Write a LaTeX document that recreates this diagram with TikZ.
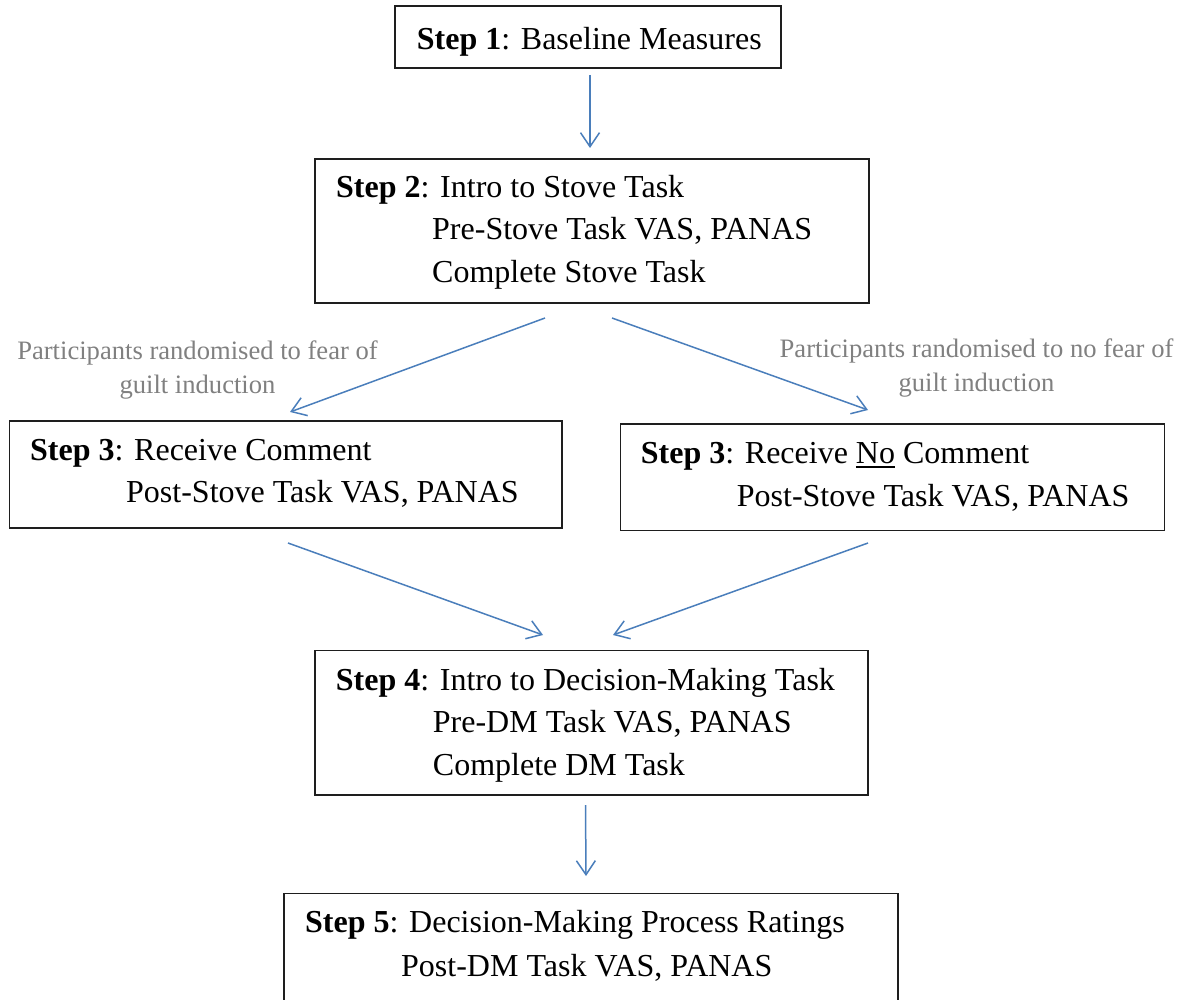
\documentclass[tikz,border=0pt]{standalone}
\usepackage{fontspec}
\setmainfont{Liberation Serif}
\usetikzlibrary{arrows.meta}
\definecolor{arrc}{RGB}{74,126,187}
\definecolor{lblc}{RGB}{128,128,128}
\definecolor{boxc}{RGB}{30,30,30}
\newcommand\mainfs{\fontsize{32}{42}\selectfont}
\newcommand\lblfs{\fontsize{26.6}{34}\selectfont}
\newcommand\myul[1]{\setbox0\hbox{#1}\rlap{\rule[-4.4pt]{\wd0}{1.4pt}}#1}
\tikzset{
  box/.style={draw=boxc, line width=1.3pt, rectangle, inner sep=0pt, outer sep=0pt},
  txt/.style={anchor=base west, inner sep=0pt, font=\mainfs},
  lbl/.style={anchor=base, inner sep=0pt, font=\lblfs, text=lblc},
  arr/.style={draw=arrc, line width=1.5pt, -{Straight Barb[length=14pt,width=19pt,line width=1.5pt]}}
}
\begin{document}
\begin{tikzpicture}[x=1pt,y=-1pt]
\useasboundingbox (0,0) rectangle (1185,1000);
% boxes
\node[box, minimum width=386pt, minimum height=62pt] (b1) at (588,37) {};
\node[box, minimum width=554pt, minimum height=144pt] (b2) at (592,231) {};
\node[box, minimum width=552.5pt, minimum height=107pt] (b3l) at (285.75,474.5) {};
\node[box, minimum width=544pt, minimum height=106.7pt] (b3r) at (892.5,477.3) {};
\node[box, minimum width=553pt, minimum height=144.3pt] (b4) at (591.5,722.85) {};
\node[box, minimum width=614pt, minimum height=110pt] (b5) at (591,948.5) {};
% texts
\node[txt] (t1) at (416.7,49.3) {\textbf{Step 1}: Baseline Measures};
\node[txt] (t2a) at (336,198) {\textbf{Step 2}: Intro to Stove Task};
\node[txt] (t2b) at (432,240) {Pre-Stove Task VAS, PANAS};
\node[txt] (t2c) at (432,282) {Complete Stove Task};
\node[txt] (t3la) at (30,460) {\textbf{Step 3}: Receive Comment};
\node[txt] (t3lb) at (126,502.7) {Post-Stove Task VAS, PANAS};
\node[txt] (t3ra) at (640.7,463.3) {\textbf{Step 3}: Receive \myul{No} Comment};
\node[txt] (t3rb) at (736.7,506) {Post-Stove Task VAS, PANAS};
\node[txt] (t4a) at (335.7,690) {\textbf{Step 4}: Intro to Decision-Making Task};
\node[txt] (t4b) at (432.7,732.7) {Pre-DM Task VAS, PANAS};
\node[txt] (t4c) at (432.7,775) {Complete DM Task};
\node[txt] (t5a) at (305,932.7) {\textbf{Step 5}: Decision-Making Process Ratings};
\node[txt] (t5b) at (401,976) {Post-DM Task VAS, PANAS};
% labels
\node[lbl] (l1a) at (197.5,359) {Participants randomised to fear of};
\node[lbl] (l1b) at (197.5,393) {guilt induction};
\node[lbl] (l2a) at (976.5,357.5) {Participants randomised to no fear of};
\node[lbl] (l2b) at (976.5,391.7) {guilt induction};
% connector end points
\coordinate (a1s) at (590,75);   \coordinate (a1e) at (590,148);
\coordinate (a2ls) at (545,318); \coordinate (a2le) at (290,412);
\coordinate (a2rs) at (612,318); \coordinate (a2re) at (868,410);
\coordinate (a3ls) at (288,543); \coordinate (a3le) at (543,635);
\coordinate (a3rs) at (868,543); \coordinate (a3re) at (613,635);
\coordinate (a4s) at (585.5,805); \coordinate (a4e) at (586,876);
% connectors
\draw[arr] (a1s) -- (a1e);
\draw[arr] (a2ls) -- (a2le);
\draw[arr] (a2rs) -- (a2re);
\draw[arr] (a3ls) -- (a3le);
\draw[arr] (a3rs) -- (a3re);
\draw[arr] (a4s) -- (a4e);
\end{tikzpicture}
\end{document}
